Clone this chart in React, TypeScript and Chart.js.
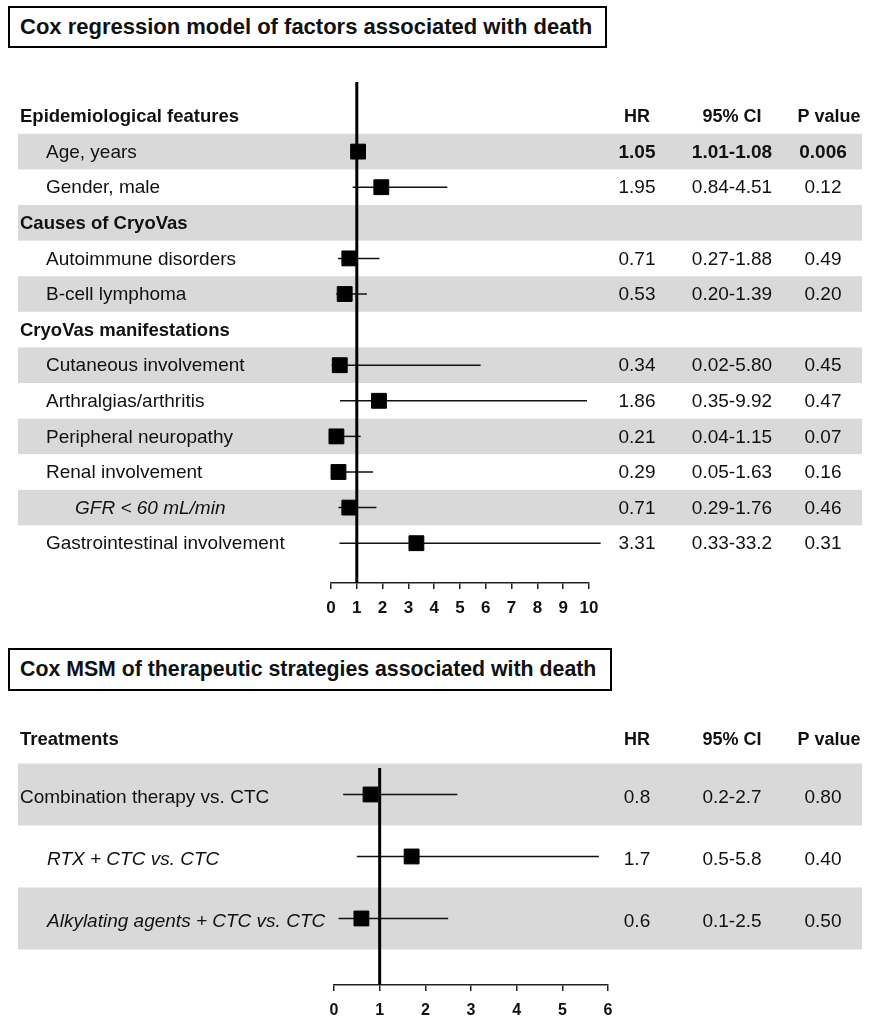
import React, { useEffect, useRef } from "react";
import { Chart, registerables } from "chart.js";

Chart.register(...registerables);

const FONT = "'Liberation Sans', Arial, Helvetica, sans-serif";
const BAND_COLOR = "#d9d9d9";
const INK = "#111111";

// ---------------- Panel 1 data ----------------
const title1 = "Cox regression model of factors associated with death";
const labels1 = [
  "Epidemiological features",
  "Age, years",
  "Gender, male",
  "Causes of CryoVas",
  "Autoimmune disorders",
  "B-cell lymphoma",
  "CryoVas manifestations",
  "Cutaneous involvement",
  "Arthralgias/arthritis",
  "Peripheral neuropathy",
  "Renal involvement",
  "GFR < 60 mL/min",
  "Gastrointestinal involvement",
];
const kinds1 = ["section", "item", "item", "section", "item", "item", "section", "item", "item", "item", "item", "sub", "item"];
const shaded1 = [false, true, false, true, false, true, false, true, false, true, false, true, false];
const boldValues1 = [false, true, false, false, false, false, false, false, false, false, false, false, false];
const hr1 = [null, 1.05, 1.95, null, 0.71, 0.53, null, 0.34, 1.86, 0.21, 0.29, 0.71, 3.31];
const ciLow1 = [null, 1.01, 0.84, null, 0.27, 0.2, null, 0.02, 0.35, 0.04, 0.05, 0.29, 0.33];
const ciHigh1 = [null, 1.08, 4.51, null, 1.88, 1.39, null, 5.8, 9.92, 1.15, 1.63, 1.76, 33.2];
const hrText1 = ["", "1.05", "1.95", "", "0.71", "0.53", "", "0.34", "1.86", "0.21", "0.29", "0.71", "3.31"];
const ciText1 = ["", "1.01-1.08", "0.84-4.51", "", "0.27-1.88", "0.20-1.39", "", "0.02-5.80", "0.35-9.92", "0.04-1.15", "0.05-1.63", "0.29-1.76", "0.33-33.2"];
const pText1 = ["", "0.006", "0.12", "", "0.49", "0.20", "", "0.45", "0.47", "0.07", "0.16", "0.46", "0.31"];
const xMax1 = 10;

// ---------------- Panel 2 data ----------------
const title2 = "Cox MSM of therapeutic strategies associated with death";
const header2 = "Treatments";
const labels2 = ["Combination therapy vs. CTC", "RTX + CTC vs. CTC", "Alkylating agents + CTC vs. CTC"];
const kinds2 = ["plain", "italic", "italic"];
const shaded2 = [true, false, true];
const boldValues2 = [false, false, false];
const hr2 = [0.8, 1.7, 0.6];
const ciLow2 = [0.2, 0.5, 0.1];
const ciHigh2 = [2.7, 5.8, 2.5];
const hrText2 = ["0.8", "1.7", "0.6"];
const ciText2 = ["0.2-2.7", "0.5-5.8", "0.1-2.5"];
const pText2 = ["0.80", "0.40", "0.50"];
const xMax2 = 6;

const columnHeaders = ["HR", "95% CI", "P value"];

type Spec = {
  labels: string[];
  kinds: string[];
  shaded: boolean[];
  boldValues: boolean[];
  hr: (number | null)[];
  lo: (number | null)[];
  hi: (number | null)[];
  hrText: string[];
  ciText: string[];
  pText: string[];
  header?: string;
  headerRow: number;
  xMax: number;
  xCap: number;
  yMin: number;
  yMax: number;
  top: number;
  height: number;
  padding: { left: number; right: number; top: number; bottom: number };
  axisHeight: number;
  tickSize: number;
  tickPad: number;
  tickLen: number;
  textDy: number;
};

const kindStyle: Record<string, { x: number; weight: string; style: string; size: number }> = {
  section: { x: 20, weight: "bold", style: "normal", size: 18.5 },
  item: { x: 46, weight: "normal", style: "normal", size: 19 },
  sub: { x: 75, weight: "normal", style: "italic", size: 19 },
  plain: { x: 20, weight: "normal", style: "normal", size: 19 },
  italic: { x: 47, weight: "normal", style: "italic", size: 19 },
};

const COL_HR = 637;
const COL_CI = 732;
const COL_P = 823;
const COL_P_HEAD = 829;
const BAND_LEFT = 18;
const BAND_RIGHT = 862;

function makePlugin(spec: Spec) {
  return {
    id: "forestTable",
    beforeDraw(chart: any) {
      const ctx = chart.ctx;
      const y = chart.scales.y;
      ctx.save();
      ctx.fillStyle = BAND_COLOR;
      spec.shaded.forEach((s, i) => {
        if (!s) return;
        const a = y.getPixelForValue(i - 0.5);
        const b = y.getPixelForValue(i + 0.5);
        ctx.fillRect(BAND_LEFT, Math.min(a, b), BAND_RIGHT - BAND_LEFT, Math.abs(b - a));
      });
      ctx.restore();
    },
    afterDraw(chart: any) {
      const ctx = chart.ctx;
      const y = chart.scales.y;
      ctx.save();
      ctx.fillStyle = INK;
      ctx.textBaseline = "middle";
      const hy = y.getPixelForValue(spec.headerRow) + spec.textDy;
      ctx.font = `bold 18px ${FONT}`;
      ctx.textAlign = "center";
      ctx.fillText(columnHeaders[0], COL_HR, hy);
      ctx.fillText(columnHeaders[1], COL_CI, hy);
      ctx.fillText(columnHeaders[2], COL_P_HEAD, hy);
      if (spec.header) {
        ctx.textAlign = "left";
        ctx.font = `bold 18.5px ${FONT}`;
        ctx.fillText(spec.header, 20, hy);
      }
      spec.labels.forEach((label, i) => {
        const st = kindStyle[spec.kinds[i]];
        const py = y.getPixelForValue(i) + spec.textDy;
        ctx.textAlign = "left";
        ctx.font = `${st.style} ${st.weight} ${st.size}px ${FONT}`;
        ctx.fillText(label, st.x, py);
        ctx.textAlign = "center";
        ctx.font = `${spec.boldValues[i] ? "bold" : "normal"} 19px ${FONT}`;
        ctx.fillText(spec.hrText[i], COL_HR, py);
        ctx.fillText(spec.ciText[i], COL_CI, py);
        ctx.fillText(spec.pText[i], COL_P, py);
      });
      ctx.restore();
    },
  };
}

function buildConfig(spec: Spec): any {
  const ciSets = spec.hr
    .map((h, i) => (h === null ? null : i))
    .filter((i) => i !== null)
    .map((i: any) => ({
      type: "scatter",
      showLine: true,
      data: [
        { x: spec.lo[i], y: i },
        { x: Math.min(spec.hi[i] as number, spec.xCap), y: i },
      ],
      borderColor: INK,
      borderWidth: 1.5,
      pointRadius: 0,
      clip: false,
      order: 3,
    }));
  const markers = {
    type: "scatter",
    data: spec.hr
      .map((h, i) => (h === null ? null : { x: h, y: i }))
      .filter((d) => d !== null),
    pointStyle: "rect",
    pointRadius: 10.5,
    borderWidth: 1,
    borderColor: "#000",
    backgroundColor: "#000",
    clip: false,
    order: 1,
  };
  const refLine = {
    type: "scatter",
    showLine: true,
    data: [
      { x: 1, y: spec.yMin },
      { x: 1, y: spec.yMax },
    ],
    borderColor: "#000",
    borderWidth: 3,
    pointRadius: 0,
    clip: false,
    order: 2,
  };
  return {
    type: "scatter",
    data: { datasets: [...ciSets, refLine, markers] },
    options: {
      responsive: false,
      animation: false,
      devicePixelRatio: 1,
      layout: { padding: spec.padding },
      plugins: { legend: { display: false }, tooltip: { enabled: false } },
      scales: {
        x: {
          type: "linear",
          min: 0,
          max: spec.xMax,
          ticks: {
            stepSize: 1,
            color: INK,
            padding: spec.tickPad,
            maxRotation: 0,
            autoSkip: false,
            font: { family: FONT, size: spec.tickSize, weight: "bold" },
          },
          grid: { drawOnChartArea: false, drawTicks: true, tickLength: spec.tickLen, color: "#222", lineWidth: 1.5 },
          border: { display: true, color: "#222", width: 1.5 },
          afterFit: (s: any) => {
            s.height = spec.axisHeight;
          },
        },
        y: {
          type: "linear",
          reverse: true,
          min: spec.yMin,
          max: spec.yMax,
          display: false,
        },
      },
    },
    plugins: [makePlugin(spec)],
  };
}

const spec1: Spec = {
  labels: labels1,
  kinds: kinds1,
  shaded: shaded1,
  boldValues: boldValues1,
  hr: hr1,
  lo: ciLow1,
  hi: ciHigh1,
  hrText: hrText1,
  ciText: ciText1,
  pText: pText1,
  headerRow: 0,
  xMax: xMax1,
  xCap: 10.45,
  yMin: -0.955,
  yMax: 13.118,
  top: 0,
  height: 630,
  padding: { left: 331, right: 285, top: 82, bottom: 7 },
  axisHeight: 40,
  tickSize: 17,
  tickPad: 9,
  tickLen: 6,
  textDy: 1,
};

const spec2: Spec = {
  labels: labels2,
  kinds: kinds2,
  shaded: shaded2,
  boldValues: boldValues2,
  hr: hr2,
  lo: ciLow2,
  hi: ciHigh2,
  hrText: hrText2,
  ciText: ciText2,
  pText: pText2,
  header: header2,
  headerRow: -0.927,
  xMax: xMax2,
  xCap: 6,
  yMin: -0.427,
  yMax: 3.073,
  top: 630,
  height: 390,
  padding: { left: 334, right: 266, top: 138, bottom: 0 },
  axisHeight: 35,
  tickSize: 16,
  tickPad: 10,
  tickLen: 6,
  textDy: 3,
};

function Forest({ spec }: { spec: Spec }) {
  const ref = useRef<HTMLCanvasElement | null>(null);
  useEffect(() => {
    if (!ref.current) return;
    const chart = new Chart(ref.current, buildConfig(spec));
    return () => chart.destroy();
  }, [spec]);
  return (
    <canvas
      ref={ref}
      width={874}
      height={spec.height}
      style={{ position: "absolute", left: 0, top: spec.top, width: 874, height: spec.height }}
    />
  );
}

function TitleBox({ text, left, top, width, height, size }: { text: string; left: number; top: number; width: number; height: number; size: number }) {
  return (
    <div
      style={{
        position: "absolute",
        left,
        top,
        width,
        height,
        boxSizing: "border-box",
        border: "2.5px solid #000",
        fontFamily: FONT,
        fontWeight: "bold",
        fontSize: size,
        color: INK,
        paddingLeft: 10,
        display: "flex",
        alignItems: "center",
        whiteSpace: "nowrap",
        background: "#fff",
      }}
    >
      {text}
    </div>
  );
}

export default function App() {
  return (
    <div style={{ position: "absolute", left: 0, top: 0, width: 874, height: 1020, background: "#fff", overflow: "hidden" }}>
      <Forest spec={spec1} />
      <Forest spec={spec2} />
      <TitleBox text={title1} left={8} top={6} width={599} height={42} size={22} />
      <TitleBox text={title2} left={8} top={648} width={604} height={43} size={21.3} />
    </div>
  );
}
